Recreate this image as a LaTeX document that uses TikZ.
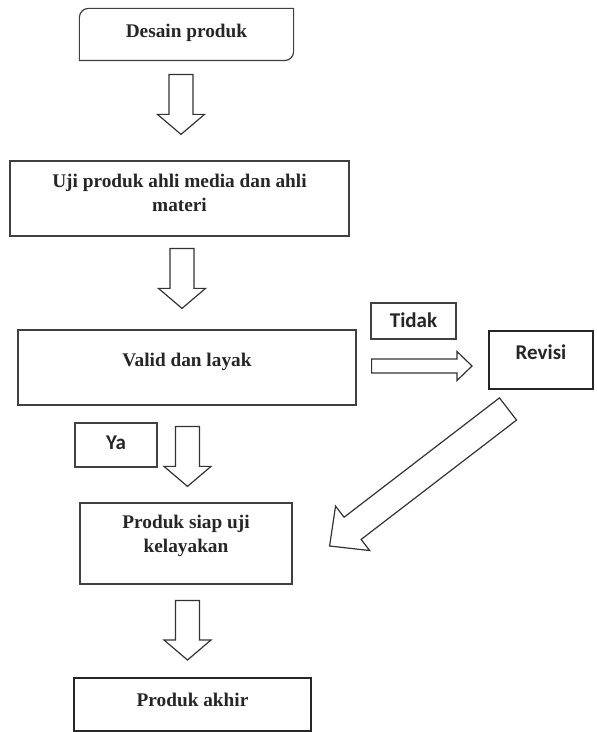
\documentclass[tikz,border=0pt]{standalone}
\usepackage{fontspec}
\setmainfont{Liberation Serif}
\newfontfamily\sinserif{Carlito}
\usetikzlibrary{calc}

\tikzset{
	caja/.style = {
		draw = black!75, line width = 1.2bp, inner sep = 0pt,
		align = center, text = black!85, text height = 13bp,
		font = \bfseries\fontsize{19.3bp}{24bp}\selectfont
	},
	marca/.style = {
		caja, text height = 13.5bp,
		font = \sinserif\bfseries\fontsize{21bp}{24bp}\selectfont
	},
	gruesa/.style = {draw = black!85, line width = 2bp},
	% flecha hueca: semiancho del cuerpo, semiancho y largo de la punta
	flecha/.style n args = {3}{
		draw = black!80, line width = 1.2bp, fill = white,
		to path = {
			let \p1 = ($(\tikztotarget)!#3!(\tikztostart)$) in
			($(\tikztostart)!#1!90:(\tikztotarget)$)
			-- ($(\p1)!#1!90:(\tikztotarget)$)
			-- ($(\p1)!#2!90:(\tikztotarget)$)
			-- (\tikztotarget)
			-- ($(\p1)!#2!-90:(\tikztotarget)$)
			-- ($(\p1)!#1!-90:(\tikztotarget)$)
			-- ($(\tikztostart)!#1!-90:(\tikztotarget)$)
			-- cycle
		}
	}
}

\begin{document}
\begin{tikzpicture}[x = 1bp, y = 1bp]

	% márgenes del dibujo
	\useasboundingbox (0,0) rectangle (597,732);

	% cajas del flujo principal
	\node[caja, draw = none, minimum width = 213bp, minimum height = 51bp,
		text depth = 7bp] (desain) at (186.5,697.5) {Desain produk};
	\draw[caja]
		(desain.south west) -- ([yshift = -9bp]desain.north west)
		arc[start angle = 180, end angle = 90, radius = 9bp]
		-- (desain.north east) -- ([yshift = 9bp]desain.south east)
		arc[start angle = 0, end angle = -90, radius = 9bp] -- cycle;

	\node[caja, minimum width = 339bp, minimum height = 75bp,
		text height = 37bp, text depth = 11bp] (uji) at (179.5,533.5)
		{Uji produk ahli media dan ahli\\materi};

	\node[caja, minimum width = 338bp, minimum height = 75bp,
		text depth = 15bp] (valid) at (187,364.5) {Valid dan layak};

	\node[caja, minimum width = 212bp, minimum height = 81bp,
		text height = 37bp, text depth = 18bp] (siap) at (186,188.5)
		{Produk siap uji\\kelayakan};

	\node[caja, gruesa, minimum width = 237bp, minimum height = 53bp,
		text depth = 9bp] (akhir) at (192.5,27.5) {Produk akhir};

	% revisión y etiquetas de decisión
	\node[marca, gruesa, minimum width = 104bp, minimum height = 58bp,
		text depth = 14bp] (revisi) at (541,372) {Revisi};
	\node[marca, minimum width = 85bp, minimum height = 36bp,
		text depth = 0bp] (tidak) at (413.5,411) {Tidak};
	\node[marca, minimum width = 82bp, minimum height = 44bp,
		text depth = 5bp] (ya) at (116,287) {Ya};

	% extremos de las flechas
	\coordinate (a1) at ($(desain.south) + (-5.5,-14)$);
	\coordinate (b1) at ($(uji.north) + (1.5,26)$);
	\coordinate (a2) at ($(uji.south) + (2.5,-12)$);
	\coordinate (b2) at ($(valid.north) + (-5,21)$);
	\coordinate (a3) at ($(valid.east) + (15,1.5)$);
	\coordinate (b3) at ($(revisi.west) + (-16,-6)$);
	\coordinate (a4) at ($(valid.south) + (0.5,-21)$);
	\coordinate (b4) at ($(siap.north) + (1.5,16)$);
	\coordinate (a5) at ($(revisi.south) + (-33,-19)$);
	\coordinate (b5) at ($(siap.east) + (37,-2.5)$);
	\coordinate (a6) at ($(siap.south) + (1.5,-16)$);
	\coordinate (b6) at ($(akhir.north) + (-5,17)$);

	% flechas
	\foreach \s/\t in {a1/b1, a2/b2, a4/b4, a6/b6}
		\draw[flecha = {12bp}{23.5bp}{20bp}] (\s) to (\t);
	\draw[flecha = {7bp}{14.5bp}{15bp}] (a3) to (b3);
	\draw[flecha = {14bp}{28bp}{29bp}] (a5) to (b5);

\end{tikzpicture}
\end{document}
